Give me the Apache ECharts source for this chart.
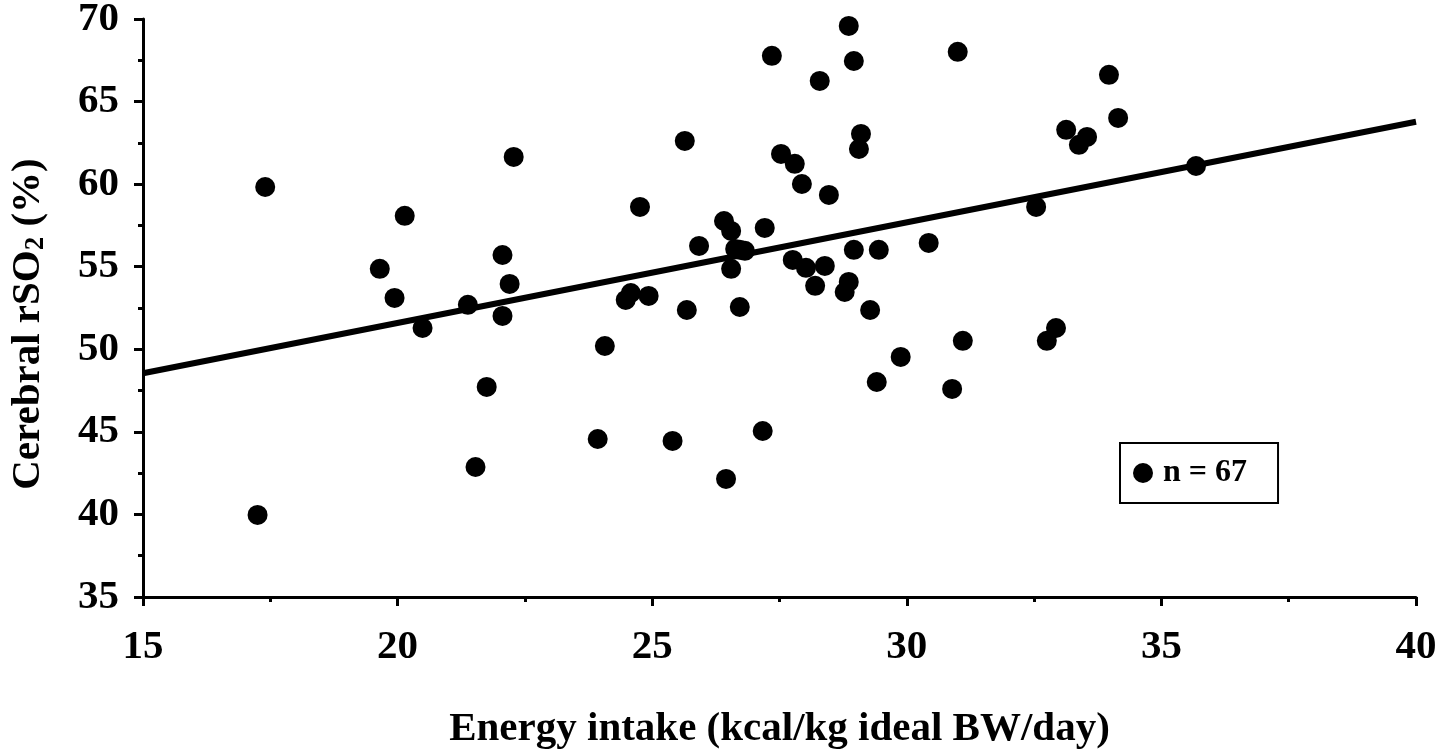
<!DOCTYPE html>
<html>
<head>
<meta charset="utf-8">
<script src="https://cdn.jsdelivr.net/npm/echarts@6/dist/echarts.min.js"></script>
<style>
html,body{margin:0;padding:0;background:#fff;}
#chart{width:1455px;height:750px;}
</style>
</head>
<body>
<div id="chart"></div>
<script>
// Scatter data: energy intake (kcal/kg ideal BW/day)
var energyX = [17.4, 17.25, 19.65, 19.94, 20.14, 20.49, 21.38, 21.53, 21.75, 22.06,
  22.06, 22.2, 22.28, 23.93, 24.07, 24.48, 24.58, 24.76, 24.93, 25.4,
  25.64, 25.68, 25.92, 26.41, 26.45, 26.55, 26.55, 26.63, 26.72, 26.72,
  27.21, 27.17, 27.35, 27.53, 27.8, 27.76, 27.94, 28.02, 28.2, 28.29,
  28.39, 28.47, 28.78, 28.86, 28.86, 28.96, 28.96, 29.06, 29.1, 29.28,
  29.41, 29.45, 29.88, 30.43, 30.89, 31.0, 31.1, 32.54, 32.75, 32.93,
  33.13, 33.38, 33.54, 33.97, 34.15, 35.68, 26.82];
// Cerebral rSO2 (%)
var rso2Y = [59.83, 39.97, 54.87, 53.11, 58.08, 51.29, 52.69, 42.87, 47.72, 55.71,
  52.02, 53.96, 61.65, 44.57, 50.2, 52.99, 53.41, 58.62, 53.23, 44.45,
  62.62, 52.38, 56.26, 57.77, 42.15, 57.17, 54.87, 56.08, 56.02, 52.56,
  57.35, 45.05, 67.77, 61.83, 61.23, 55.41, 60.01, 54.93, 53.84, 66.25,
  55.05, 59.35, 53.47, 54.08, 69.58, 67.46, 56.02, 62.13, 63.04, 52.38,
  48.02, 56.02, 49.54, 56.44, 47.6, 68.01, 50.51, 58.62, 50.51, 51.29,
  63.29, 62.38, 62.86, 66.62, 64.01, 61.1, 55.96];
// Regression line end points
var fitX = [15, 40];
var fitY = [48.55, 63.78];

var xTicks = [15, 20, 25, 30, 35, 40];
var yTicks = [35, 40, 45, 50, 55, 60, 65, 70];
var legendLabel = 'n = 67';
var xName = 'Energy intake (kcal/kg ideal BW/day)';

var FONT = '"Liberation Serif", "Times New Roman", serif';

var scatterData = energyX.map(function (x, i) { return [x, rso2Y[i]]; });
var fitData = fitX.map(function (x, i) { return [x, fitY[i]]; });

var chart = echarts.init(document.getElementById('chart'), null, {renderer: 'canvas'});

var axisCommon = {
  axisLine: {show: true, onZero: false, lineStyle: {color: '#000', width: 3}},
  axisTick: {show: true, inside: false, length: 9, lineStyle: {color: '#000', width: 3}},
  minorTick: {show: true, splitNumber: 2, length: 5, lineStyle: {color: '#000', width: 3}},
  splitLine: {show: false},
  minorSplitLine: {show: false}
};

chart.setOption({
  animation: false,
  backgroundColor: '#fff',
  grid: {left: 143, right: 39, top: 19, bottom: 153, containLabel: false, outerBoundsMode: 'none'},
  xAxis: Object.assign({
    type: 'value',
    min: xTicks[0], max: xTicks[xTicks.length - 1], interval: 5,
    axisLabel: {color: '#000', fontFamily: FONT, fontWeight: 'bold', fontSize: 41, margin: 30},
    name: xName,
    nameLocation: 'middle',
    nameGap: 112,
    nameTextStyle: {color: '#000', fontFamily: FONT, fontWeight: 'bold', fontSize: 41}
  }, axisCommon),
  yAxis: Object.assign({
    type: 'value',
    min: yTicks[0], max: yTicks[yTicks.length - 1], interval: 5,
    axisLabel: {color: '#000', fontFamily: FONT, fontWeight: 'bold', fontSize: 41, margin: 24},
    name: '{a|Cerebral rSO}{s|2}{a| (%)}',
    nameLocation: 'middle',
    nameGap: 93,
    nameRotate: 90,
    nameTextStyle: {
      color: '#000', fontFamily: FONT, fontWeight: 'bold', fontSize: 41,
      padding: [0, 32, 0, 0],
      rich: {
        a: {color: '#000', fontFamily: FONT, fontWeight: 'bold', fontSize: 41, lineHeight: 44},
        s: {color: '#000', fontFamily: FONT, fontWeight: 'bold', fontSize: 27, lineHeight: 44, verticalAlign: 'bottom', padding: [16, 0, 0, 0]}
      }
    }
  }, axisCommon),
  legend: {
    show: true,
    data: [{name: legendLabel, icon: 'circle'}],
    left: 1120, top: 443,
    orient: 'horizontal',
    itemWidth: 20, itemHeight: 20,
    padding: [14, 31, 14, 13],
    borderColor: '#000', borderWidth: 2,
    backgroundColor: '#fff',
    textStyle: {color: '#000', fontFamily: FONT, fontWeight: 'bold', fontSize: 32, padding: [0, 0, 0, 5]},
    selectedMode: false
  },
  series: [
    {
      type: 'line',
      name: 'fit',
      data: fitData,
      showSymbol: false,
      symbol: 'none',
      lineStyle: {color: '#000', width: 6},
      silent: true,
      z: 2
    },
    {
      type: 'scatter',
      name: legendLabel,
      data: scatterData,
      symbol: 'circle',
      symbolSize: 20,
      itemStyle: {color: '#000', opacity: 1},
      z: 3
    }
  ]
});
</script>
</body>
</html>
